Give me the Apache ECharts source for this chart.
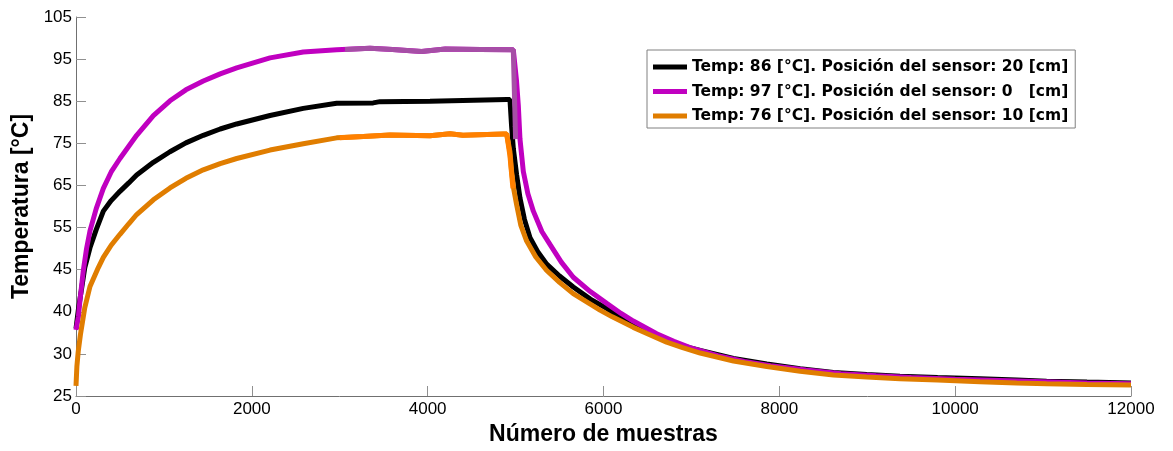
<!DOCTYPE html>
<html>
<head>
<meta charset="utf-8">
<script src="https://cdn.jsdelivr.net/npm/echarts@6/dist/echarts.min.js"></script>
<style>
  html, body { margin: 0; padding: 0; background: #fff; }
  #chart { width: 1173px; height: 451px; }
</style>
</head>
<body>
<div id="chart"></div>
<script>
// etiquetas del eje y (el eje va de 15 a 105 en pasos de 10, pero se rotulan así)
var yTickLabels = ['25', '30', '40', '45', '55', '65', '75', '85', '95', '105'];

var nombres = [
    'Temp: 86 [°C]. Posición del sensor: 20 [cm]',
    'Temp: 97 [°C]. Posición del sensor: 0   [cm]',
    'Temp: 76 [°C]. Posición del sensor: 10 [cm]'
];

// sensor a 20 cm (negro)
var negroX = [0, 30, 60, 100, 159, 230, 311, 400, 500, 600, 690, 880, 1069, 1250, 1448, 1640, 1828, 2207, 2585, 2965, 3380, 3457, 4026, 4400, 4899, 4936,
    4955, 4974, 5012, 5050, 5100, 5164, 5250, 5354, 5500, 5656, 5850, 6036, 6200, 6339, 6500, 6718, 6900, 7100, 7479, 7858, 8237, 8616, 8995, 9372, 9800, 10282, 10700, 11040, 11500, 12000];
var negroY = [31, 36, 40, 45.5, 50.2, 54.5, 58.9, 61.4, 63.6, 65.6, 67.5, 70.5, 73, 75.1, 76.9, 78.4, 79.6, 81.6, 83.3, 84.5, 84.6, 84.9, 85.0, 85.2, 85.4, 85.4,
    79, 73.8, 67.5, 62, 57, 52.6, 49.3, 46.3, 43.5, 40.9, 38, 35.8, 33.5, 31.9, 30.2, 28.2, 26.9, 25.8, 23.9, 22.6, 21.5, 20.6, 20.1, 19.7, 19.4, 19.1, 18.8, 18.5, 18.3, 18.1];

// sensor a 0 cm (magenta)
var magentaX = [0, 27, 45, 83, 120, 159, 230, 311, 400, 500, 600, 690, 880, 1069, 1250, 1448, 1640, 1828, 2207, 2585, 2965, 3344, 3600, 3931, 4200, 4600, 4974,
    5010, 5031, 5050, 5088, 5140, 5202, 5300, 5391, 5520, 5656, 5850, 6036, 6200, 6339, 6605, 6800, 6984, 7300, 7600, 7900, 8300, 8700, 9100, 9500, 10000, 10500, 11000, 11500, 12000];
var magentaY = [30.7, 33.8, 37.7, 44.8, 50, 54.2, 59.5, 64.3, 68.2, 71.4, 74.3, 76.9, 81.6, 85.1, 87.7, 89.8, 91.5, 92.9, 95.3, 96.7, 97.25, 97.6, 97.3, 96.8, 97.4, 97.3, 97.2,
    90, 84, 76, 68.3, 63, 58.9, 54, 51, 46.8, 43.2, 39.8, 37, 34.6, 32.8, 29.8, 28.0, 26.5, 24.6, 23.2, 22.2, 21.2, 20.3, 19.8, 19.4, 19.0, 18.7, 18.4, 18.1, 17.9];

// sensor a 10 cm (naranja)
var naranjaX = [0, 10, 25, 50, 100, 159, 254, 311, 400, 500, 600, 690, 880, 1069, 1250, 1448, 1640, 1828, 2207, 2585, 2965, 3268, 3571, 4026, 4254, 4400, 4860, 4899,
    4936, 4955, 4980, 5012, 5060, 5126, 5230, 5354, 5500, 5656, 5850, 5960, 6100, 6339, 6500, 6718, 6900, 7100, 7479, 7858, 8237, 8616, 8995, 9372, 9800, 10282, 10700, 11040, 11500, 12000];
var naranjaY = [17.4, 22, 25.5, 29.5, 36, 41, 45.5, 47.9, 50.8, 53.4, 55.9, 58.1, 61.6, 64.4, 66.7, 68.7, 70.2, 71.4, 73.4, 74.9, 76.3, 76.6, 77.0, 76.8, 77.3, 76.9, 77.2, 77.2,
    73, 68.3, 64, 60.4, 55.5, 51.8, 48, 44.8, 42, 39.3, 36.8, 35.4, 33.8, 31.3, 29.8, 27.8, 26.5, 25.2, 23.3, 22.0, 20.9, 20.0, 19.5, 19.1, 18.8, 18.4, 18.1, 17.9, 17.75, 17.6];

// tramos finales de la meseta que aparecen con otro tono
var magentaClaroX = [3060, 3344, 3600, 3931, 4200, 4600, 4974, 5000];
var magentaClaroY = [97.3, 97.6, 97.3, 96.8, 97.4, 97.3, 97.2, 76];
var naranjaClaroX = [3000, 3268, 3571, 4026, 4254, 4400, 4860, 4899, 4936, 4970];
var naranjaClaroY = [76.3, 76.6, 77.0, 76.8, 77.3, 76.9, 77.2, 77.2, 72, 64.3];

function pares(xs, ys) {
    var d = [];
    for (var i = 0; i < xs.length; i++) {
        d.push([xs[i], ys[i]]);
    }
    return d;
}

function serie(nombre, xs, ys, color) {
    return {
        name: nombre,
        type: 'line',
        data: pares(xs, ys),
        symbol: 'none',
        smooth: false,
        lineStyle: { color: color, width: 5 },
        itemStyle: { color: color },
        emphasis: { disabled: true }
    };
}

var chart = echarts.init(document.getElementById('chart'));
var fuente = '"Liberation Sans", Arial, sans-serif';

var option = {
    animation: false,
    backgroundColor: '#fff',
    grid: { left: 76, right: 42, top: 17, bottom: 51 },
    legend: {
        orient: 'vertical',
        left: 647,
        top: 50,
        data: nombres,
        icon: 'rect',
        itemWidth: 34,
        itemHeight: 5,
        itemGap: 8.5,
        padding: [9, 7, 4, 6],
        borderColor: '#808080',
        borderWidth: 1,
        backgroundColor: '#fff',
        selectedMode: false,
        textStyle: { fontFamily: '"DejaVu Sans", sans-serif', fontWeight: 'bold', fontSize: 15.5, color: '#000' }
    },
    xAxis: {
        type: 'value',
        min: 0,
        max: 12000,
        interval: 2000,
        name: 'Número de muestras',
        nameLocation: 'middle',
        nameGap: 27,
        nameTextStyle: { fontFamily: fuente, fontWeight: 'bold', fontSize: 23, color: '#000' },
        axisLine: { show: true, lineStyle: { color: '#707070', width: 1 } },
        axisTick: { show: true, inside: true, length: 10, lineStyle: { color: '#909090' } },
        axisLabel: {
            fontFamily: fuente, fontSize: 17, color: '#000', margin: 5,
            formatter: function (v) { return String(v); }
        },
        splitLine: { show: false }
    },
    yAxis: {
        type: 'value',
        min: 15,
        max: 105,
        interval: 10,
        name: 'Temperatura [°C]',
        nameLocation: 'middle',
        nameGap: 41,
        nameTextStyle: { fontFamily: fuente, fontWeight: 'bold', fontSize: 23, color: '#000' },
        axisLine: { show: true, lineStyle: { color: '#707070', width: 1 } },
        axisTick: { show: true, inside: true, length: 10, lineStyle: { color: '#909090' } },
        axisLabel: {
            fontFamily: fuente, fontSize: 17, color: '#000', margin: 4,
            formatter: function (v) {
                return yTickLabels[Math.round((v - 15) / 10)];
            }
        },
        splitLine: { show: false }
    },
    series: [
        serie(nombres[0], negroX, negroY, '#000000'),
        serie(nombres[1], magentaX, magentaY, '#c000c0'),
        serie(nombres[2], naranjaX, naranjaY, '#e07d00'),
        serie('magenta claro', magentaClaroX, magentaClaroY, '#a64fa6'),
        serie('naranja claro', naranjaClaroX, naranjaClaroY, '#ff8000')
    ]
};
chart.setOption(option);
</script>
</body>
</html>
